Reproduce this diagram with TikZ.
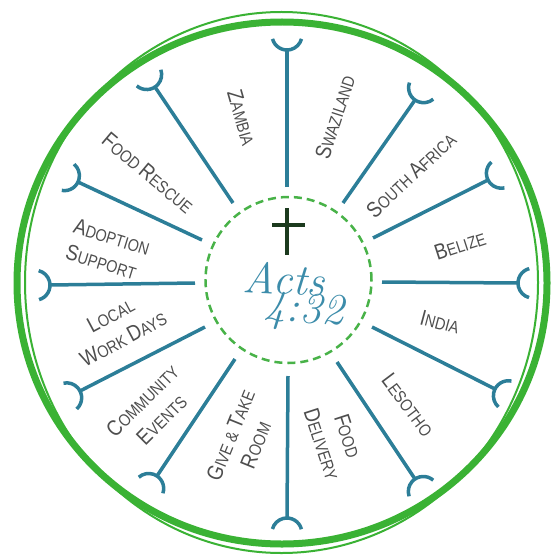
\documentclass[tikz,border=0pt]{standalone}
\usepackage{fontspec}
\newfontfamily\lblfont{Liberation Sans}[FakeStretch=0.85]
\usetikzlibrary{calc}
\definecolor{spokeblue}{RGB}{44,126,152}
\definecolor{ringgreen}{RGB}{58,178,52}
\definecolor{dashgreen}{RGB}{72,178,72}
\definecolor{crossgreen}{RGB}{28,58,30}
\definecolor{txtgray}{RGB}{78,78,78}
\definecolor{scriptteal}{RGB}{60,140,170}
\newcommand\BL[1]{{\fontsize{22}{24}\selectfont #1}}
\tikzset{
  spoke/.style={draw=spokeblue, line width=3.5pt},
  lbl/.style={font=\lblfont\fontsize{17}{27}\selectfont, text=txtgray, align=center, inner sep=0pt},
  scripttext/.style={font=\itshape\fontsize{44}{44}\selectfont, text=scriptteal, inner sep=0pt},
}
\begin{document}
\begin{tikzpicture}[x=1pt,y=1pt]
\useasboundingbox (0,0) rectangle (550,-559);
% outer ring
\draw[ringgreen, line width=7pt] (282,-283) ellipse [x radius=265, y radius=261];
\draw[ringgreen, line width=2pt] (281.5,-282.5) ellipse [x radius=256.5, y radius=270.5];
% inner dashed circle
\draw[dashgreen, line width=2.5pt, dash pattern=on 8pt off 5pt] (288.5,-280) circle [radius=83];
% spokes with cups
\foreach \ix/\iy/\ox/\oy [count=\k] in {287/187/287/50, 343/203/415/100, 373/238/488/180, 382/282/518/283, 372/327/495/389, 337/362/415/479, 288/376/287/518, 235/359/157/476, 205/327/80/391, 195/283/50/285, 202/240/78/182, 233/203/155/87}{
  \coordinate (in\k) at (\ix,-\iy);
  \coordinate (out\k) at (\ox,-\oy);
  \draw[spoke] (in\k) -- (out\k);
  \draw[spoke] let \p1=($(out\k)-(in\k)$), \n1={atan2(\y1,\x1)} in
    ($(out\k)+(\n1:15pt)+({\n1+105}:15pt)$) arc[start angle={\n1+105}, end angle={\n1+255}, radius=15pt];
}
% cross
\coordinate (ct) at (287,-208);
\coordinate (cb) at (287,-255);
\coordinate (cl) at (272,-225);
\coordinate (cr) at (305,-225);
\draw[crossgreen, line width=4.5pt] (ct) -- (cb);
\draw[crossgreen, line width=4.5pt] (cl) -- (cr);
% centre text
\node[scripttext, rotate=-3] (acts) at (284,-279) {Acts};
\node[scripttext, rotate=-3] (verse) at (304,-312) {4:32};
% labels
\node[lbl, rotate=-74] (zambia) at (242,-118) {\BL{Z}AMBIA};
\node[lbl, rotate=72] (swaziland) at (335,-117) {\BL{S}WAZILAND};
\node[lbl, rotate=43] (southafrica) at (411,-175) {\BL{S}OUTH \BL{A}FRICA};
\node[lbl, rotate=18] (belize) at (460,-245) {\BL{B}ELIZE};
\node[lbl, rotate=-15] (india) at (440,-322) {\BL{I}NDIA};
\node[lbl, rotate=-53] (lesotho) at (408,-405) {\BL{L}ESOTHO};
\node[lbl, rotate=-72] (fooddel) at (335,-440) {\BL{F}OOD\\\BL{D}ELIVERY};
\node[lbl, rotate=68] (givetake) at (243,-440) {\BL{G}IVE \& \BL{T}AKE\\\BL{R}OOM};
\node[lbl, rotate=45] (community) at (152,-410) {\BL{C}OMMUNITY\\\BL{E}VENTS};
\node[lbl, rotate=28] (localwork) at (117,-327) {\BL{L}OCAL\\\BL{W}ORK \BL{D}AYS};
\node[lbl, rotate=-17, align=left] (adoption) at (108,-250) {\BL{A}DOPTION\\\BL{S}UPPORT};
\node[lbl, rotate=-40] (foodrescue) at (148,-173) {\BL{F}OOD \BL{R}ESCUE};
\end{tikzpicture}
\end{document}
